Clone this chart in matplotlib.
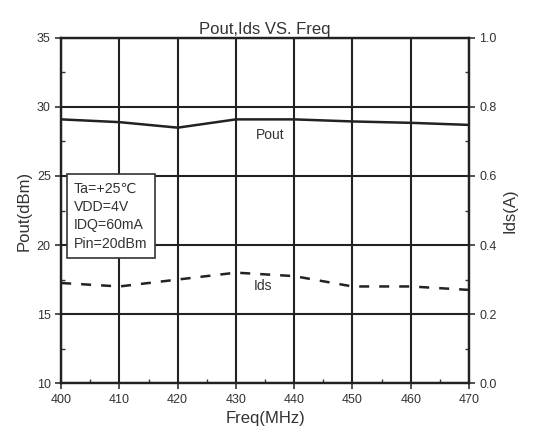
import matplotlib
matplotlib.use("Agg")
import matplotlib.pyplot as plt
from matplotlib.ticker import MultipleLocator

plt.rcParams['font.family'] = ['Liberation Sans', 'DejaVu Sans']

# data
freq = [400, 410, 420, 430, 440, 450, 460, 470]
pout = [29.1, 28.9, 28.5, 29.1, 29.1, 28.95, 28.85, 28.7]
ids = [0.29, 0.28, 0.30, 0.32, 0.31, 0.28, 0.28, 0.27]

conditions = ["Ta=+25\u2103", "VDD=4V", "IDQ=60mA", "Pin=20dBm"]

fig = plt.figure(figsize=(5.46, 4.46), dpi=100)
ax = fig.add_axes([0.112, 0.141, 0.747, 0.774])
ax2 = ax.twinx()

ax.plot(freq, pout, color='#222222', lw=1.8)
ax2.plot(freq, ids, color='#222222', lw=1.8, ls=(0, (4, 4)))

ax.set_xlim(400, 470)
ax.set_ylim(10, 35)
ax2.set_ylim(0, 1.0)

ax.xaxis.set_major_locator(MultipleLocator(10))
ax.xaxis.set_minor_locator(MultipleLocator(5))
ax.yaxis.set_major_locator(MultipleLocator(5))
ax.yaxis.set_minor_locator(MultipleLocator(2.5))
ax2.yaxis.set_major_locator(MultipleLocator(0.2))
ax2.yaxis.set_minor_locator(MultipleLocator(0.1))
ax2.set_yticklabels([f"{v:.1f}" for v in ax2.get_yticks()])

ax.grid(True, which='major', color='#222222', lw=1.5)
for a in (ax, ax2):
    for s in a.spines.values():
        s.set_linewidth(1.6)
        s.set_color('#222222')
ax.tick_params(which='major', direction='out', length=4, width=1.2, labelsize=9, colors='#333333')
ax.tick_params(which='minor', direction='in', length=3, width=1.0, colors='#333333')
ax2.tick_params(which='major', direction='out', length=4, width=1.2, labelsize=9, colors='#333333')
ax2.tick_params(which='minor', direction='in', length=3, width=1.0, colors='#333333')

ax.set_xlabel("Freq(MHz)", fontsize=12, color='#333333')
ax.set_ylabel("Pout(dBm)", fontsize=12, color='#333333')
ax2.set_ylabel("Ids(A)", fontsize=12, color='#333333')
ax.set_title("Pout,Ids VS. Freq", fontsize=12, color='#333333', pad=3)

ax.text(433.5, 28.0, "Pout", fontsize=10, color='#333333', va='center')
ax.text(433, 17.0, "Ids", fontsize=10, color='#333333', va='center')

ax.text(402.2, 22.1, "\n".join(conditions), fontsize=10.2, color='#333333',
        va='center', ha='left', linespacing=1.4,
        bbox=dict(boxstyle='square,pad=0.5', fc='white', ec='#333333', lw=1.2))

fig.savefig("out.png", dpi=100)
